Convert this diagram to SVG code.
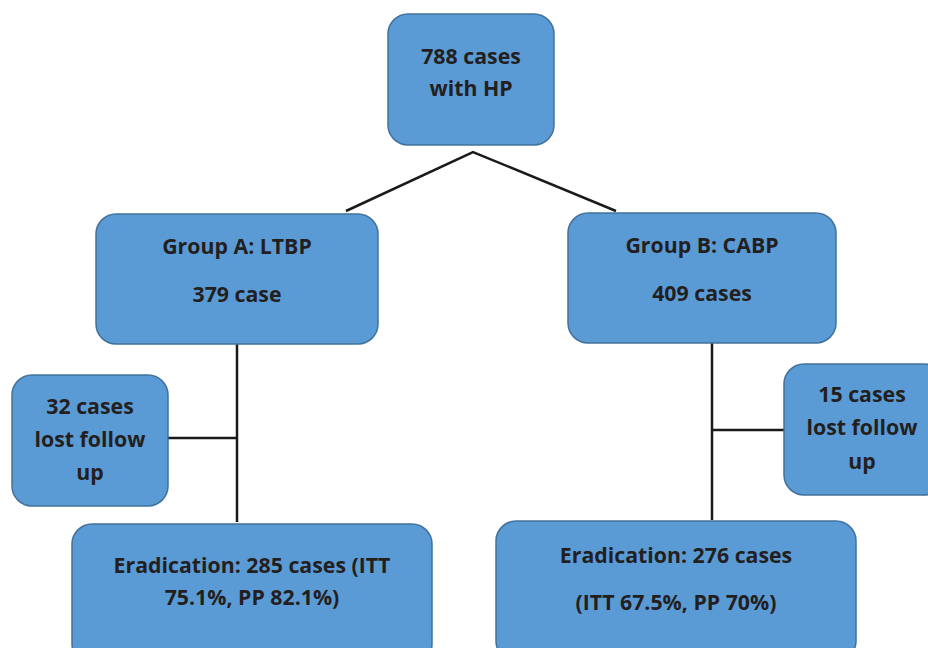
<svg xmlns="http://www.w3.org/2000/svg" width="928" height="648" viewBox="0 0 928 648">
<style>
.box{fill:#5B9BD5;stroke:#41719C;stroke-width:1.5}
.t{font-family:"Open Sans","Liberation Sans",sans-serif;font-weight:bold;font-size:21.3px;fill:#231F20;text-anchor:middle}
.c{stroke:#1A1A1A;stroke-width:2.5;fill:none}
</style>
<rect width="928" height="648" fill="#fff"/>
<g id="connectors">
<path class="c" d="M346,211 L473,152 L616,211"/>
<path class="c" d="M237,344 V522 M168,438 H237"/>
<path class="c" d="M712,343 V520 M712,430 H784"/>
</g>
<g id="n-top">
<rect class="box" x="388" y="14" width="166" height="131" rx="20"/>
<text class="t" x="471" y="64">788 cases</text>
<text class="t" x="471" y="96">with HP</text>
</g>
<g id="n-groupA">
<rect class="box" x="96" y="214" width="282" height="130" rx="20"/>
<text class="t" x="237" y="254">Group A: LTBP</text>
<text class="t" x="237" y="302">379 case</text>
</g>
<g id="n-groupB">
<rect class="box" x="568" y="213" width="268" height="130" rx="20"/>
<text class="t" x="702" y="253">Group B: CABP</text>
<text class="t" x="702" y="301">409 cases</text>
</g>
<g id="n-lostA">
<rect class="box" x="12" y="375" width="156" height="131" rx="20"/>
<text class="t" x="90" y="414">32 cases</text>
<text class="t" x="90" y="447">lost follow</text>
<text class="t" x="90" y="480">up</text>
</g>
<g id="n-lostB">
<rect class="box" x="784" y="364" width="160" height="131" rx="20"/>
<text class="t" x="862" y="402">15 cases</text>
<text class="t" x="862" y="435">lost follow</text>
<text class="t" x="862" y="469">up</text>
</g>
<g id="n-eradA">
<rect class="box" x="72" y="524" width="360" height="140" rx="20"/>
<text class="t" x="252" y="573">Eradication: 285 cases (ITT</text>
<text class="t" x="252" y="605">75.1%, PP 82.1%)</text>
</g>
<g id="n-eradB">
<rect class="box" x="496" y="521" width="360" height="140" rx="20"/>
<text class="t" x="676" y="563">Eradication: 276 cases</text>
<text class="t" x="676" y="610">(ITT 67.5%, PP 70%)</text>
</g>
</svg>
